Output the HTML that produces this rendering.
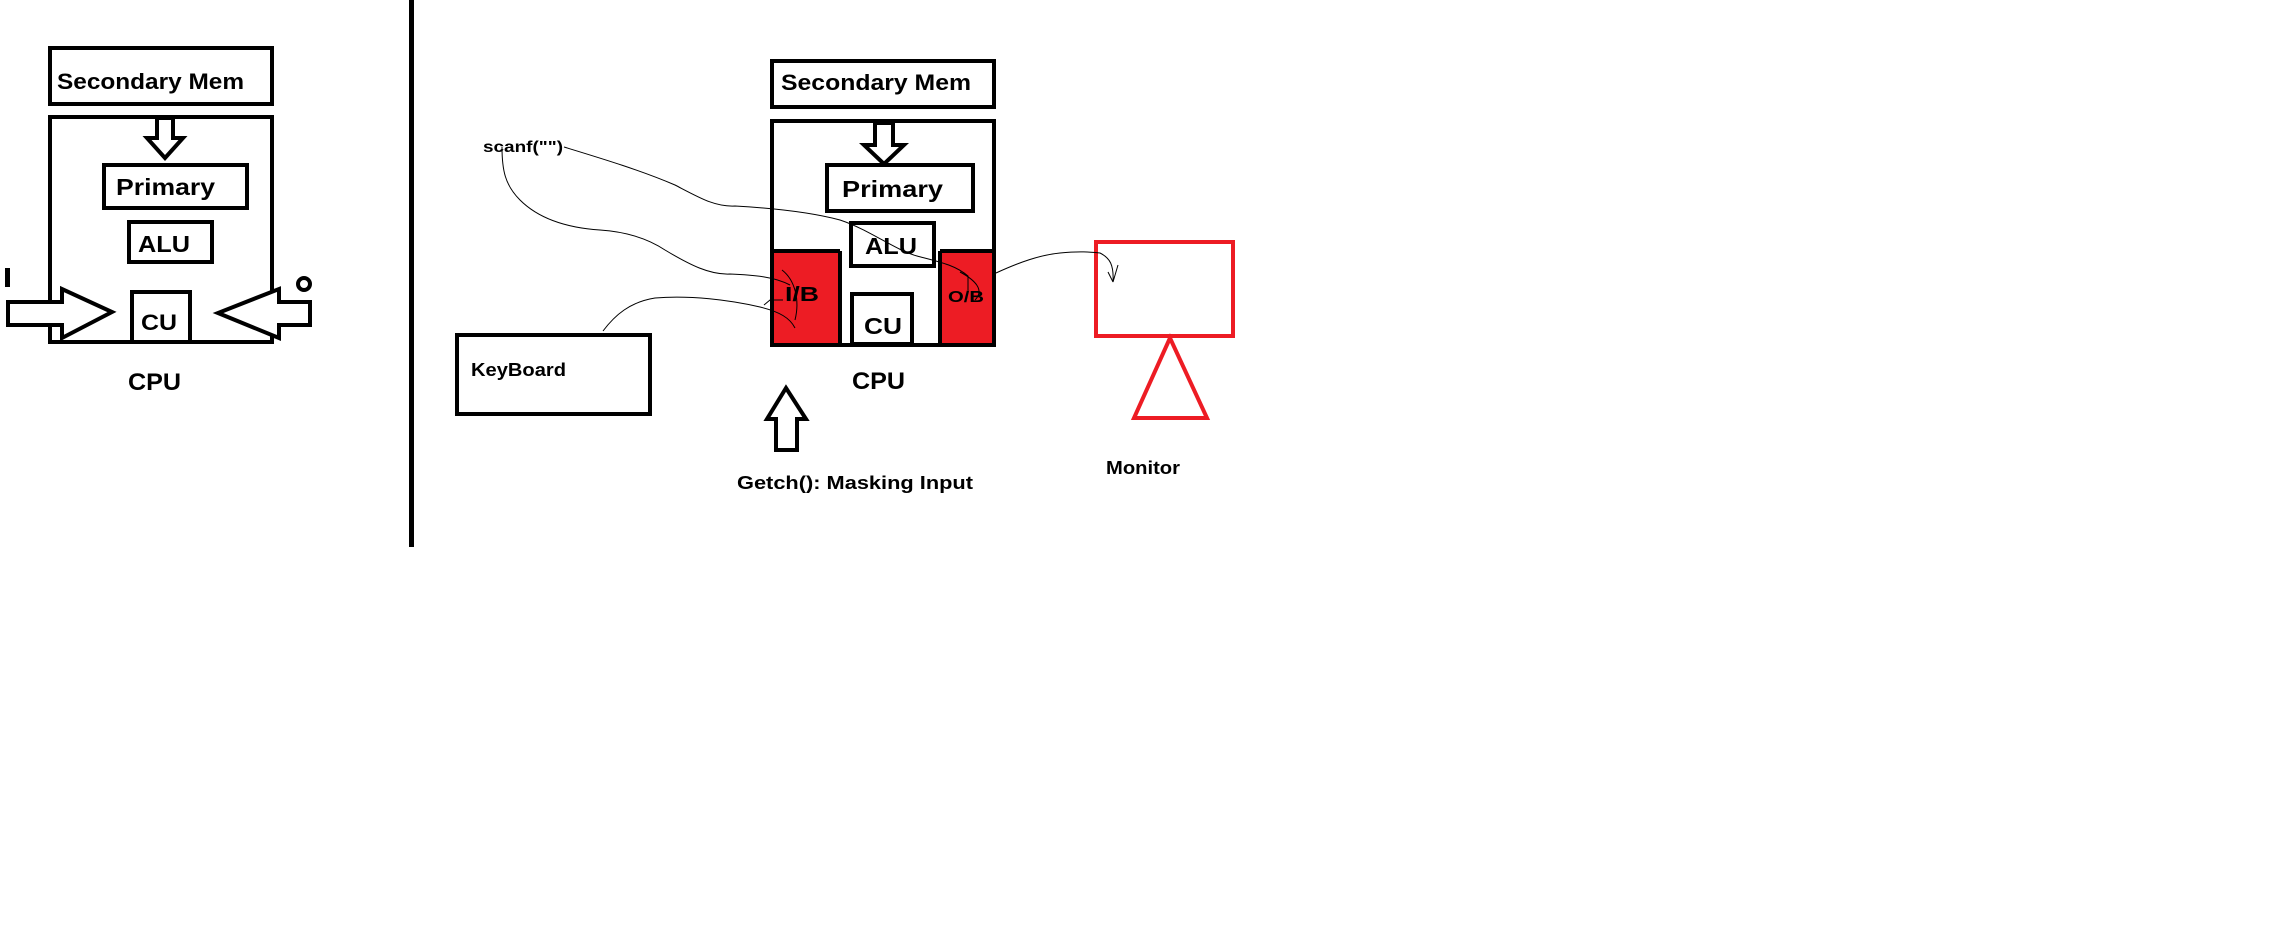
<!DOCTYPE html>
<html><head><meta charset="utf-8"><style>
html,body{margin:0;padding:0;background:#fff;width:2280px;height:946px;overflow:hidden}
svg{display:block}
text{font-family:"Liberation Sans",sans-serif;font-weight:bold;fill:#000}
</style></head><body>
<svg width="2280" height="946" viewBox="0 0 2280 946" xmlns="http://www.w3.org/2000/svg">
<!-- LEFT DIAGRAM -->
<g fill="none" stroke="#000" stroke-width="4">
<rect x="50" y="48" width="222" height="56"/>
<rect x="50" y="117" width="222" height="225"/>
<polygon points="157,118 173,118 173,138 183,138 165,158 147,138 157,138" fill="#fff"/>
<rect x="104" y="165" width="143" height="43"/>
<rect x="129" y="222" width="83" height="40"/>
<rect x="132" y="292" width="58" height="50" fill="#fff"/>
<polygon points="8,302 62,302 62,289 112,312 62,338 62,325 8,325" fill="#fff"/>
<polygon points="310,302 279,302 279,289 218,313 279,338 279,325 310,325" fill="#fff"/>
<circle cx="304" cy="284" r="6"/>
</g>
<rect x="5" y="268" width="5" height="19" fill="#000"/>
<text x="57" y="89" font-size="22" textLength="187" lengthAdjust="spacingAndGlyphs">Secondary Mem</text>
<text x="116" y="195" font-size="23" textLength="99" lengthAdjust="spacingAndGlyphs">Primary</text>
<text x="138" y="252" font-size="23" textLength="52" lengthAdjust="spacingAndGlyphs">ALU</text>
<text x="141" y="330" font-size="22" textLength="36" lengthAdjust="spacingAndGlyphs">CU</text>
<text x="128" y="390" font-size="24" textLength="53" lengthAdjust="spacingAndGlyphs">CPU</text>
<rect x="409" y="0" width="5" height="547" fill="#000"/>

<!-- RIGHT DIAGRAM -->
<rect x="772" y="250" width="68" height="96" fill="#ed1c24"/>
<rect x="940" y="250" width="55" height="96" fill="#ed1c24"/>
<g fill="none" stroke="#000" stroke-width="4">
<rect x="772" y="61" width="222" height="46"/>
<rect x="772" y="121" width="222" height="224"/>
<line x1="772" y1="251" x2="840" y2="251"/><line x1="840" y1="251" x2="840" y2="345"/>
<line x1="940" y1="251" x2="994" y2="251"/><line x1="940" y1="251" x2="940" y2="345"/>
<polygon points="875,123 893,123 893,145 904,145 884,164 864,145 875,145" fill="#fff"/>
<rect x="827" y="165" width="146" height="46"/>
<rect x="851" y="223" width="83" height="43" fill="#fff"/>
<rect x="852" y="294" width="60" height="50" fill="#fff"/>
<rect x="457" y="335" width="193" height="79"/>
<polygon points="786,388 806,419 797,419 797,450 776,450 776,419 767,419" fill="#fff"/>
</g>
<g fill="none" stroke="#ed1c24" stroke-width="4">
<rect x="1096" y="242" width="137" height="94"/>
<polygon points="1170,338 1207,418 1134,418"/>
</g>
<text x="781" y="90" font-size="22" textLength="190" lengthAdjust="spacingAndGlyphs">Secondary Mem</text>
<text x="842" y="197" font-size="23" textLength="101" lengthAdjust="spacingAndGlyphs">Primary</text>
<text x="865" y="254" font-size="23" textLength="52" lengthAdjust="spacingAndGlyphs">ALU</text>
<text x="864" y="334" font-size="23" textLength="38" lengthAdjust="spacingAndGlyphs">CU</text>
<text x="785" y="301" font-size="20" textLength="34" lengthAdjust="spacingAndGlyphs">I/B</text>
<text x="948" y="302" font-size="16" textLength="36" lengthAdjust="spacingAndGlyphs">O/B</text>
<text x="852" y="389" font-size="24" textLength="53" lengthAdjust="spacingAndGlyphs">CPU</text>
<text x="471" y="376" font-size="18" textLength="95" lengthAdjust="spacingAndGlyphs">KeyBoard</text>
<text x="483" y="152" font-size="16" textLength="80" lengthAdjust="spacingAndGlyphs">scanf("")</text>
<text x="737" y="489" font-size="18" textLength="236" lengthAdjust="spacingAndGlyphs">Getch(): Masking Input</text>
<text x="1106" y="474" font-size="18" textLength="74" lengthAdjust="spacingAndGlyphs">Monitor</text>

<g fill="none" stroke="#000" stroke-width="1">
<path d="M502,147 C502,170 505,185 520,200 C540,220 570,228 600,230 C630,232 650,240 665,250 C690,265 710,275 730,274 C755,275 775,277 790,285"/>
<path d="M782,270 C795,280 800,300 795,320"/>
<path d="M564,147 C600,158 640,170 675,185 C700,198 715,207 735,206 C770,208 810,212 840,220 C870,230 895,250 917,256 C940,262 955,265 968,276 L968,290"/>
<path d="M960,272 C975,280 985,290 975,300"/>
<path d="M603,331 C615,315 630,302 655,298 C690,295 730,300 760,307 C780,312 790,318 795,328"/>
<path d="M783,300 L770,300 L764,305"/>
<path d="M996,273 C1020,262 1040,255 1060,253 C1080,251 1090,252 1100,253 C1110,258 1114,265 1113,282 M1113,282 L1108,272 M1113,282 L1118,265"/>
</g>
</svg>
</body></html>
